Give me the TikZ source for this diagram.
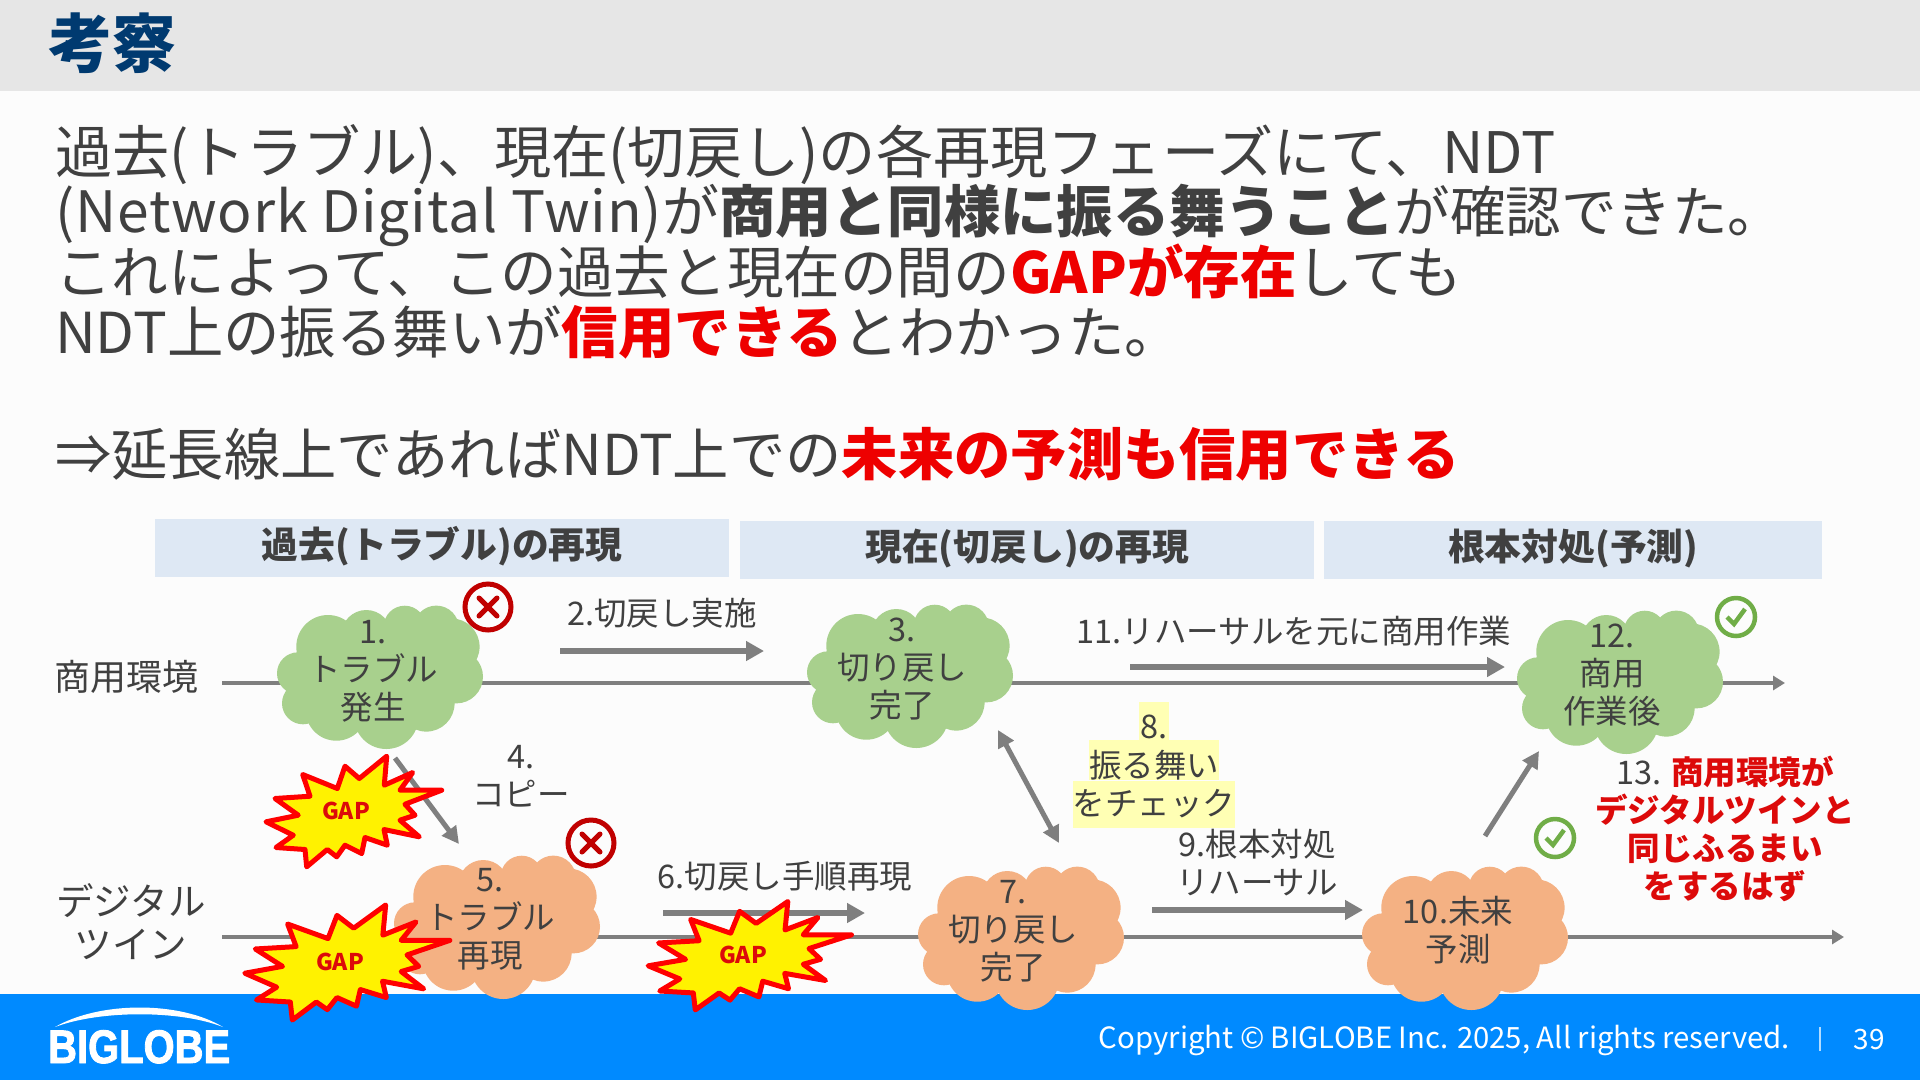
\documentclass[tikz,border=0pt]{standalone}
\usepackage{fontspec}
\setmainfont{Noto Sans CJK JP}
\newfontfamily\logofont[BoldFeatures={FakeBold=2}]{Liberation Sans}
\usetikzlibrary{positioning, arrows.meta}
\definecolor{PageWhite}{RGB}{252, 252, 252}
\definecolor{HeadGray}{RGB}{230, 230, 230}
\definecolor{TitleBlue}{RGB}{0, 58, 112}
\definecolor{InkGray}{RGB}{64, 64, 64}
\definecolor{FlowGray}{RGB}{127, 127, 127}
\definecolor{BarBlue}{RGB}{222, 232, 244}
\definecolor{FootBlue}{RGB}{0, 138, 255}
\definecolor{HotRed}{RGB}{238, 0, 0}
\definecolor{NoteRed}{RGB}{220, 10, 10}
\definecolor{RealGreen}{RGB}{168, 208, 141}
\definecolor{TwinOrange}{RGB}{244, 177, 131}
\definecolor{MarkRed}{RGB}{192, 0, 0}
\definecolor{MarkGreen}{RGB}{112, 173, 71}
\definecolor{NoteYellow}{RGB}{255, 255, 180}
\newcommand{\hot}[1]{\textcolor{HotRed}{\textbf{#1}}}
\newcommand{\burstpath}{(32.7,-55.3) -- (30.3,-26.3) -- (58.7,-39) -- (46,-21.3) -- (87.7,-21.3) -- (51,-7.3) -- (61,3.7) -- (46,8.7) -- (65.3,25.3) -- (30,18) -- (33.3,33.7) -- (11,26) -- (7.7,42) -- (-9,33.7) -- (-17.3,45.3) -- (-26.7,38) -- (-47.3,55.3) -- (-49,38) -- (-78,36) -- (-60.7,23.7) -- (-88,10.3) -- (-55.7,3.7) -- (-79,-13) -- (-44,-15.3) -- (-51.3,-37) -- (-16.7,-23) -- (-9,-45.3) -- (5.3,-33) -- cycle}
\newcommand{\cloudpath}{(0,0) ellipse [x radius=75, y radius=45] (-52,-30.3) circle [radius=31.7] (-13.7,-42) circle [radius=25] (24.7,-50.3) circle [radius=21] (56.3,-48.7) circle [radius=22.7] (71.3,-30.3) circle [radius=28.3] (76.3,-0.3) circle [radius=26.7] (46.3,26.3) circle [radius=28.3] (6.3,39.7) circle [radius=32.3] (-43.7,33) circle [radius=30.7] (-77,26.3) circle [radius=21] (-82,-3.7) circle [radius=21]}
\tikzset{
    bodyline/.style={anchor=base west, inner sep=0pt, text=InkGray, font=\fontsize{57}{60}\selectfont},
    phasebar/.style={anchor=north west, fill=BarBlue, inner sep=0pt, text=InkGray, text height=39pt, text depth=19pt, font=\fontsize{36.8}{40}\selectfont\bfseries},
    lbl/.style={align=center, inner sep=0pt, text=InkGray, font=\fontsize{32.5}{38}\selectfont},
    rowlbl/.style={align=center, inner sep=0pt, text=InkGray, font=\fontsize{37.5}{43}\selectfont},
    hilite/.style={lbl, fill=NoteYellow},
    timeline/.style={draw=FlowGray, line width=3.5pt, -{Triangle[length=12pt, width=14pt]}},
    flow/.style={draw=FlowGray, line width=6.5pt, -{Triangle[length=18pt, width=19pt]}},
    thinflow/.style={draw=FlowGray, line width=5pt, -{Triangle[length=17pt, width=17pt]}},
    badmark/.style={circle, draw=MarkRed, line width=5pt, minimum size=46pt, inner sep=0pt,
        path picture={\draw[MarkRed, line width=5pt, line cap=round]
            ([shift={(-9pt,-9pt)}]path picture bounding box.center) -- ([shift={(9pt,9pt)}]path picture bounding box.center)
            ([shift={(-9pt,9pt)}]path picture bounding box.center) -- ([shift={(9pt,-9pt)}]path picture bounding box.center);}},
    okmark/.style={circle, draw=MarkGreen, line width=4.5pt, minimum size=38pt, inner sep=0pt,
        path picture={\draw[MarkGreen, line width=4.5pt]
            ([shift={(-9pt,0pt)}]path picture bounding box.center) -- ([shift={(-2pt,-7pt)}]path picture bounding box.center) -- ([shift={(9pt,8pt)}]path picture bounding box.center);}},
    burst/.style={draw=red, fill=yellow, line width=5pt, line join=round},
    gaplbl/.style={inner sep=0pt, text=NoteRed, font=\fontsize{23}{24}\selectfont\bfseries}
}

\begin{document}
\begin{tikzpicture}[x=1pt, y=-1pt]
    \useasboundingbox (0,0) rectangle (1920,1080);

    % Page and bands
    \fill[PageWhite] (0,0) rectangle (1920,1080);
    \fill[HeadGray] (0,0) rectangle (1920,91);
    \fill[FootBlue] (0,994) rectangle (1920,1080);

    \node[anchor=base west, inner sep=0pt, text=TitleBlue, font=\fontsize{64}{70}\selectfont\bfseries] (title) at (48,67) {考察};

    % Body text
    \node[bodyline, font=\fontsize{57.2}{60}\selectfont] (line1) at (55,173) {過去(トラブル)、現在(切戻し)の各再現フェーズにて、NDT};
    \node[bodyline] (line2) at (55,232) {{\addfontfeature{LetterSpace=1.5}(Network Digital Twin)}が{\fontsize{56.3}{60}\selectfont\textbf{商用と同様に振る舞うこと}}{\fontsize{55.5}{60}\selectfont が確認できた。}};
    \node[bodyline, font=\fontsize{56.6}{60}\selectfont] (line3) at (55,293) {これによって、この過去と現在の間の\hot{GAPが存在}しても};
    \node[bodyline, font=\fontsize{56.4}{60}\selectfont] (line4) at (55,353) {NDT上の振る舞いが\hot{信用できる}とわかった。};
    \node[bodyline, font=\fontsize{56.3}{60}\selectfont] (line5) at (55,475) {⇒延長線上であればNDT上での\hot{未来の予測も信用できる}};

    % Phase bars
    \node[phasebar, minimum width=574pt, minimum height=58pt] (past) at (155,519) {過去(トラブル)の再現};
    \node[phasebar, minimum width=574pt, minimum height=58pt] (now) at (740,521) {現在(切戻し)の再現};
    \node[phasebar, minimum width=498pt, minimum height=58pt] (fix) at (1324,521) {根本対処(予測)};

    % Row labels
    \node[rowlbl, font=\fontsize{36}{43}\selectfont] (real) at (126,677) {商用環境};
    \node[rowlbl] (twin) at (131,922) {デジタル\\ツイン};

    % Time lines
    \coordinate (realstart) at (222,683);
    \coordinate (realend) at (1785,683);
    \coordinate (twinstart) at (222,937);
    \coordinate (twinend) at (1844,937);
    \draw[timeline] (realstart) -- (realend);
    \draw[timeline] (twinstart) -- (twinend);

    % Clouds
    \foreach \x/\y in {380/677, 910/676, 1620/682} {
      \fill[RealGreen, shift={(\x,\y)}] \cloudpath;
    }
    \foreach \x/\y in {497/927, 1021/938, 1465/938} {
      \fill[TwinOrange, shift={(\x,\y)}] \cloudpath;
    }
    \node[lbl] (t1) at (373,671) {1.\\トラブル\\発生};
    \node[lbl] (t3) at (902,669) {3.\\切り戻し\\完了};
    \node[lbl] (t12) at (1612,675) {12.\\商用\\作業後};
    \node[lbl] (t5) at (490,919) {5.\\トラブル\\再現};
    \node[lbl] (t7) at (1013,931) {7.\\切り戻し\\完了};
    \node[lbl] (t10) at (1458,930) {10.未来\\予測};

    % Step arrows
    \coordinate (a2s) at (560,651);
    \coordinate (a2e) at (764,651);
    \coordinate (a11s) at (1130,667);
    \coordinate (a11e) at (1505,667);
    \coordinate (a6s) at (663,913);
    \coordinate (a6e) at (865,913);
    \coordinate (a9s) at (1152,910);
    \coordinate (a9e) at (1363,910);
    \coordinate (a4s) at (395,758);
    \coordinate (a4e) at (459,844);
    \coordinate (a8s) at (998,730);
    \coordinate (a8e) at (1059,843);
    \coordinate (a13s) at (1485,836);
    \coordinate (a13e) at (1539,751);
    \draw[flow] (a2s) -- (a2e);
    \draw[flow] (a11s) -- (a11e);
    \draw[flow] (a6s) -- (a6e);
    \draw[flow] (a9s) -- (a9e);
    \draw[thinflow] (a4s) -- (a4e);
    \draw[thinflow, {Triangle[length=17pt, width=17pt]}-{Triangle[length=17pt, width=17pt]}] (a8s) -- (a8e);
    \draw[thinflow] (a13s) -- (a13e);

    % Step labels
    \node[lbl] (s2) at (662,613) {2.切戻し実施};
    \node[lbl] (s4) at (521,776) {4.\\コピー};
    \node[lbl] (s6) at (785,876) {6.切戻し手順再現};
    \node[lbl] (s11) at (1294,631) {11.リハーサルを元に商用作業};
    \node[lbl] (s9) at (1257,863) {9.根本対処\\リハーサル};
    \node[lbl] (s13) at (1725,829) {13. \textcolor{NoteRed}{\textbf{商用環境が}}\\\textcolor{NoteRed}{\textbf{デジタルツインと}}\\\textcolor{NoteRed}{\textbf{同じふるまい}}\\\textcolor{NoteRed}{\textbf{をするはず}}};
    \node[hilite, minimum width=30pt, text height=36pt, text depth=2pt] (s8a) at (1154,721) {8.};
    \node[hilite, minimum width=127pt, text height=37.4pt, text depth=2.6pt, below=0pt of s8a] (s8b) {振る舞い};
    \node[hilite, minimum width=159pt, text height=34.4pt, text depth=12.6pt, below=0pt of s8b] (s8c) {をチェック};

    % Marks
    \node[badmark] (bad1) at (488,607) {};
    \node[badmark] (bad5) at (591,843) {};
    \node[okmark] (ok12) at (1736,617) {};
    \node[okmark] (ok10) at (1555,838) {};

    % GAP bursts
    \foreach \x/\y/\sx/\sy in {354/811.5/1/1, 347.5/962.5/1.167/1.04, 750/955.7/1.157/0.98} {
      \draw[burst, shift={(\x,\y)}, xscale=\sx, yscale=\sy] \burstpath;
    }
    \node[gaplbl] (gapa) at (346,811) {GAP};
    \node[gaplbl] (gapb) at (340,962) {GAP};
    \node[gaplbl] (gapc) at (743,955) {GAP};

    % Footer
    \fill[white] (55,1027) .. controls (100,1001) and (180,1001) .. (223,1027) .. controls (180,1010) and (100,1010) .. (55,1027) -- cycle;
    \node[anchor=base west, inner sep=0pt, text=white, xscale=0.85, font=\fontsize{47}{50}\selectfont\logofont\bfseries] (logo) at (48,1063) {BIGLOBE};
    \node[anchor=base east, inner sep=0pt, text=white, font=\fontsize{29.3}{30}\selectfont] (copy) at (1790,1048) {Copyright © BIGLOBE Inc. 2025, All rights reserved.};
    \coordinate (sept) at (1820,1027);
    \coordinate (sepb) at (1820,1051);
    \draw[white!70!FootBlue, line width=1.2pt] (sept) -- (sepb);
    \node[inner sep=0pt, text=white, font=\fontsize{28}{30}\selectfont] (pageno) at (1869,1040) {39};
\end{tikzpicture}
\end{document}
